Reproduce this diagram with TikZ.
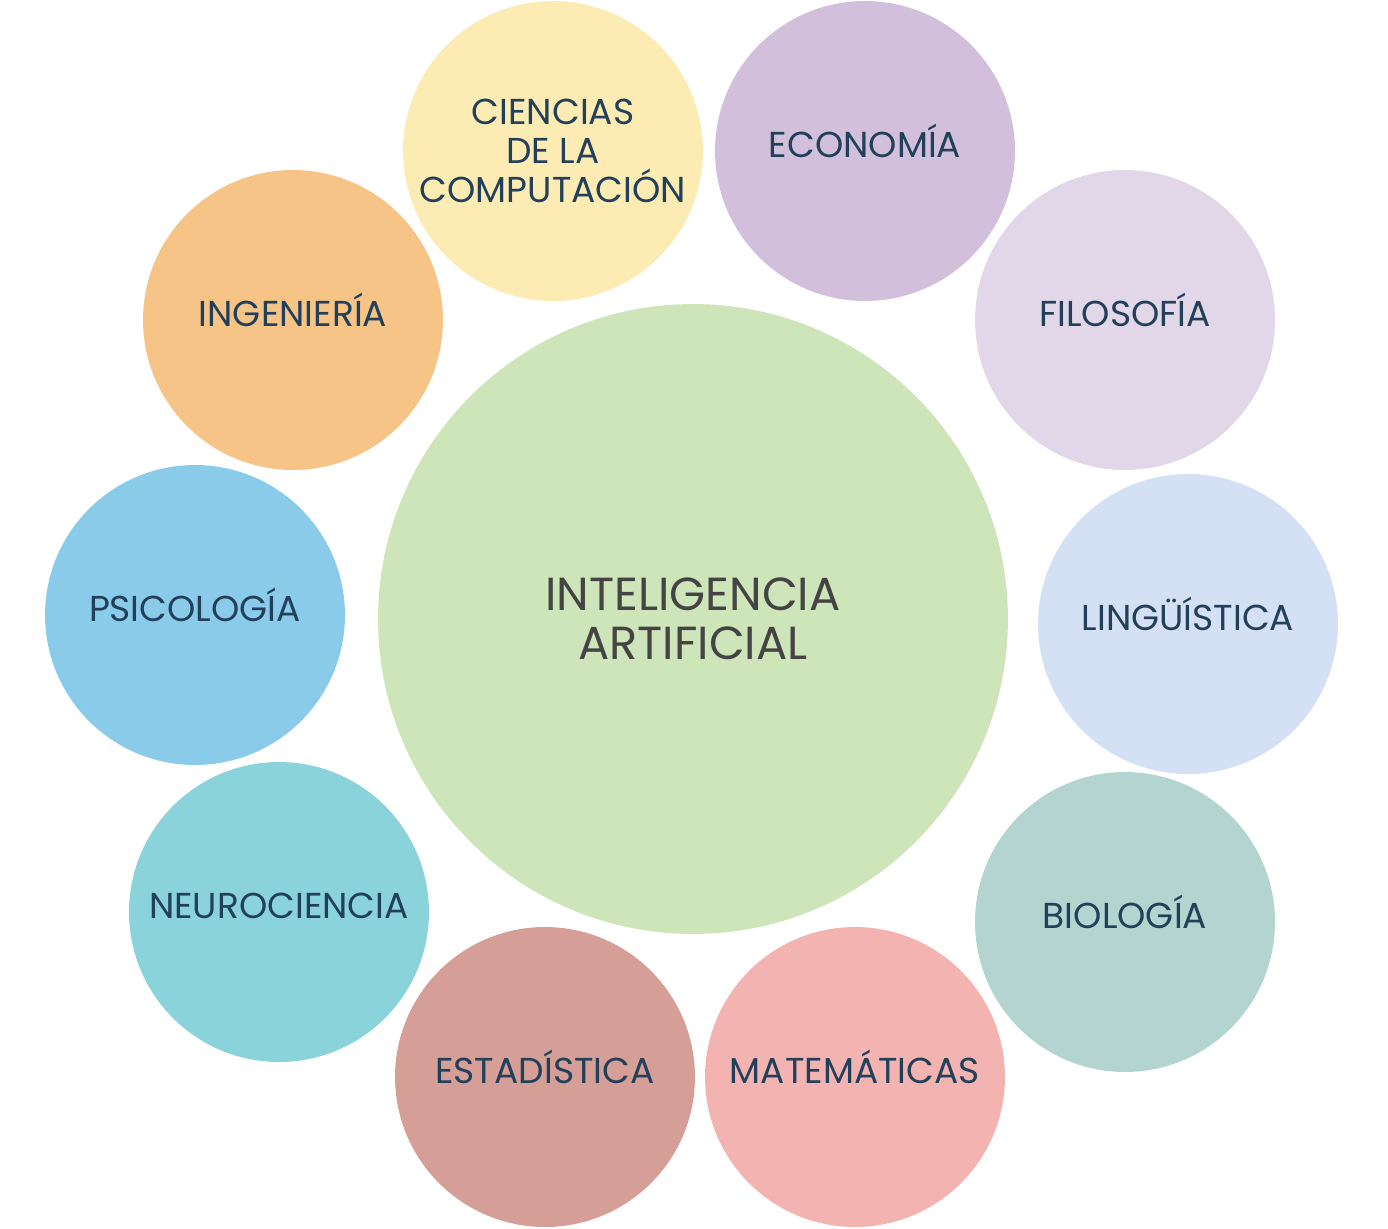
\documentclass[tikz,border=0pt]{standalone}
\usepackage{fontspec}
\setmainfont{Poppins}
\usepackage{xcolor}
\usetikzlibrary{positioning}
\definecolor{textnavy}{HTML}{23405A}
\definecolor{textgray}{HTML}{444444}
\definecolor{iagreen}{HTML}{CDE5B9}
\definecolor{cienciasyellow}{HTML}{FDEBB4}
\definecolor{economiapurple}{HTML}{D2BFDB}
\definecolor{filosofialilac}{HTML}{E2D7E9}
\definecolor{linguisticablue}{HTML}{D4E1F4}
\definecolor{biologiateal}{HTML}{B3D4CF}
\definecolor{matematicaspink}{HTML}{F3B3B1}
\definecolor{estadisticarose}{HTML}{D59E97}
\definecolor{neurocienciacyan}{HTML}{8AD3DA}
\definecolor{psicologiasky}{HTML}{8ACBEA}
\definecolor{ingenieriaorange}{HTML}{F6C486}

\tikzset{
  field/.style={circle, minimum size=6cm, inner sep=0pt, align=center,
    text=textnavy, font=\fontsize{20.5}{22}\selectfont},
  oneline/.style={field, text height=0.7em, text depth=0pt},
  core/.style={circle, minimum size=12.6cm, inner sep=0pt, align=center,
    text=textgray, font=\fontsize{26.4}{28}\selectfont}
}

\begin{document}
\begin{tikzpicture}[x=0.02cm,y=-0.02cm]
  \useasboundingbox (0,0) rectangle (1388,1228);
  % centre
  \node[core, fill=iagreen] (ia) at (693,619) {INTELIGENCIA\\ARTIFICIAL};
  % disciplines around it
  \node[field, fill=cienciasyellow] (ciencias) at (553,151) {CIENCIAS\\DE LA\\COMPUTACIÓN};
  \node[oneline, fill=economiapurple] (economia) at (865,151) {ECONOMÍA};
  \node[oneline, fill=filosofialilac] (filosofia) at (1125,320) {FILOSOFÍA};
  \node[oneline, fill=linguisticablue] (linguistica) at (1188,624) {LINGÜÍSTICA};
  \node[oneline, fill=biologiateal] (biologia) at (1125,922) {BIOLOGÍA};
  \node[oneline, fill=matematicaspink] (matematicas) at (855,1077) {MATEMÁTICAS};
  \node[oneline, fill=estadisticarose] (estadistica) at (545,1077) {ESTADÍSTICA};
  \node[oneline, fill=neurocienciacyan] (neurociencia) at (279,912) {NEUROCIENCIA};
  \node[oneline, fill=psicologiasky] (psicologia) at (195,615) {PSICOLOGÍA};
  \node[oneline, fill=ingenieriaorange] (ingenieria) at (293,320) {INGENIERÍA};
\end{tikzpicture}
\end{document}
